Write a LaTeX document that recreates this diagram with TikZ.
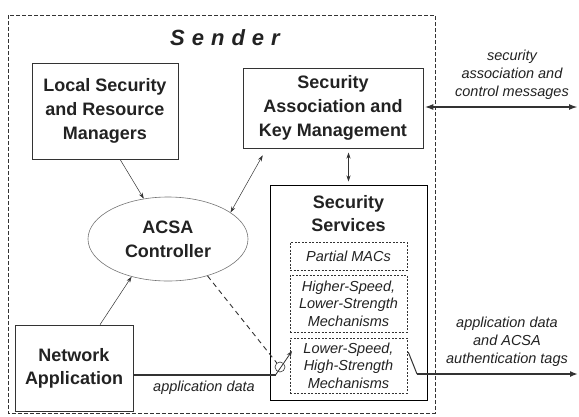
\documentclass[tikz,border=0pt]{standalone}
\usepackage{fontspec}
\setmainfont{Liberation Sans}
\usetikzlibrary{arrows.meta,shapes.geometric,calc}
\definecolor{ink}{HTML}{222222}
\definecolor{lin}{HTML}{333333}
\begin{document}
\begin{tikzpicture}[x=1pt,y=-1pt,
  box/.style={draw=lin,line width=0.6pt,inner sep=0pt,align=center,text=ink,font=\bfseries\fontsize{18}{24}\selectfont},
  ibox/.style={draw=lin,dash pattern=on 2pt off 1.5pt,line width=0.5pt,inner sep=0pt,minimum width=117pt,align=center,text=ink,font=\itshape\fontsize{14.5}{17.5}\selectfont},
  lbl/.style={align=center,text=ink,font=\itshape\fontsize{14.5}{18}\selectfont,inner sep=0pt},
  arr/.style={draw=lin,line width=0.5pt,-{Stealth[length=6pt,width=4pt]}},
  darr/.style={draw=lin,line width=0.5pt,{Stealth[length=6pt,width=4pt]}-{Stealth[length=6pt,width=4pt]}},
  thick arr/.style={draw=lin,line width=1.6pt,-{Latex[length=8pt,width=6pt]}},
  thick darr/.style={draw=lin,line width=2pt,{Latex[length=9pt,width=6pt]}-{Latex[length=9pt,width=6pt]}}
]
\useasboundingbox (0,0) rectangle (579,416);
% outer sender box
\draw[lin,line width=0.6pt,dash pattern=on 4pt off 2pt] (8,15) rectangle (435,413);
\node[text=ink,font=\bfseries\itshape\fontsize{22}{26}\selectfont,inner sep=0pt] (sender) at (225,38)
  {S\hspace{7pt}e\hspace{7pt}n\hspace{7pt}d\hspace{7pt}e\hspace{7pt}r};

% boxes
\node[box,minimum width=146pt,minimum height=96pt] (local) at (105,111) {Local Security\\and Resource\\Managers};
\node[box,minimum width=180pt,minimum height=80pt] (sakm) at (333,108) {Security\\Association and\\Key Management};
\node[draw=black,line width=1pt,minimum width=157pt,minimum height=215pt,inner sep=0pt] (ss) at (348.5,292.5) {};
\node[text=ink,align=center,inner sep=0pt,font=\bfseries\fontsize{18}{23}\selectfont] (sstitle) at (348.5,214) {Security\\Services};
\node[ibox,minimum height=28pt] (partial) at (348.5,256) {Partial MACs};
\node[ibox,minimum height=57pt] (higher) at (348.5,303.5) {Higher-Speed,\\Lower-Strength\\Mechanisms};
\node[ibox,minimum height=55pt] (lower) at (348.5,365.5) {Lower-Speed,\\High-Strength\\Mechanisms};
\node[ellipse,draw=black!55,line width=0.6pt,minimum width=160pt,minimum height=84pt,inner sep=0pt,align=center,text=ink,font=\bfseries\fontsize{18}{24}\selectfont] (acsa) at (168,239) {ACSA\\Controller};
\node[box,minimum width=118pt,minimum height=86pt,font=\fontsize{18}{23}\selectfont\bfseries] (netapp) at (74,368) {Network\\Application};

% connectors
\draw[arr] ($(local.south)+(15,0)$) -- (acsa.121);
\draw[darr] (acsa.23) -- ($(sakm.south west)+(20,7)$);
\draw[arr] ($(netapp.north)+(26,0)$) -- (acsa.226);
\draw[darr] ($(ss.north)+(0,-3)$) -- ($(ss.north)+(0,-32)$);

% switch
\node[circle,draw=lin,line width=0.6pt,minimum size=10pt,inner sep=0pt] (sw) at (280,367) {};
\coordinate (swbase) at (275.5,375);
\coordinate (swtip) at (292,351);
\draw[lin,line width=0.9pt,dash pattern=on 5pt off 4pt] (acsa.-43) -- (sw);
\draw[lin,line width=1.4pt] ($(netapp.east)+(0,7)$) -- (swbase);
\draw[draw=lin,line width=0.8pt,-{Stealth[length=6pt,width=4.5pt]}] (swbase) -- (swtip);
\node[lbl] (appdata) at (204,388) {application data};

% outgoing data
\coordinate (bend) at (417,374);
\coordinate (outend) at (578,374);
\draw[lin,line width=1pt] ($(lower.east)+(1,-13.5)$) -- (bend);
\draw[thick arr] (bend) -- (outend);
\node[lbl] (outlbl) at (507,342) {application data\\and ACSA\\authentication tags};

% control messages
\coordinate (ctrlend) at (578,107);
\draw[thick darr] ($(sakm.east)+(1,-1)$) -- (ctrlend);
\node[lbl] (ctrllbl) at (512,75) {security\\association and\\control messages};
\end{tikzpicture}
\end{document}
